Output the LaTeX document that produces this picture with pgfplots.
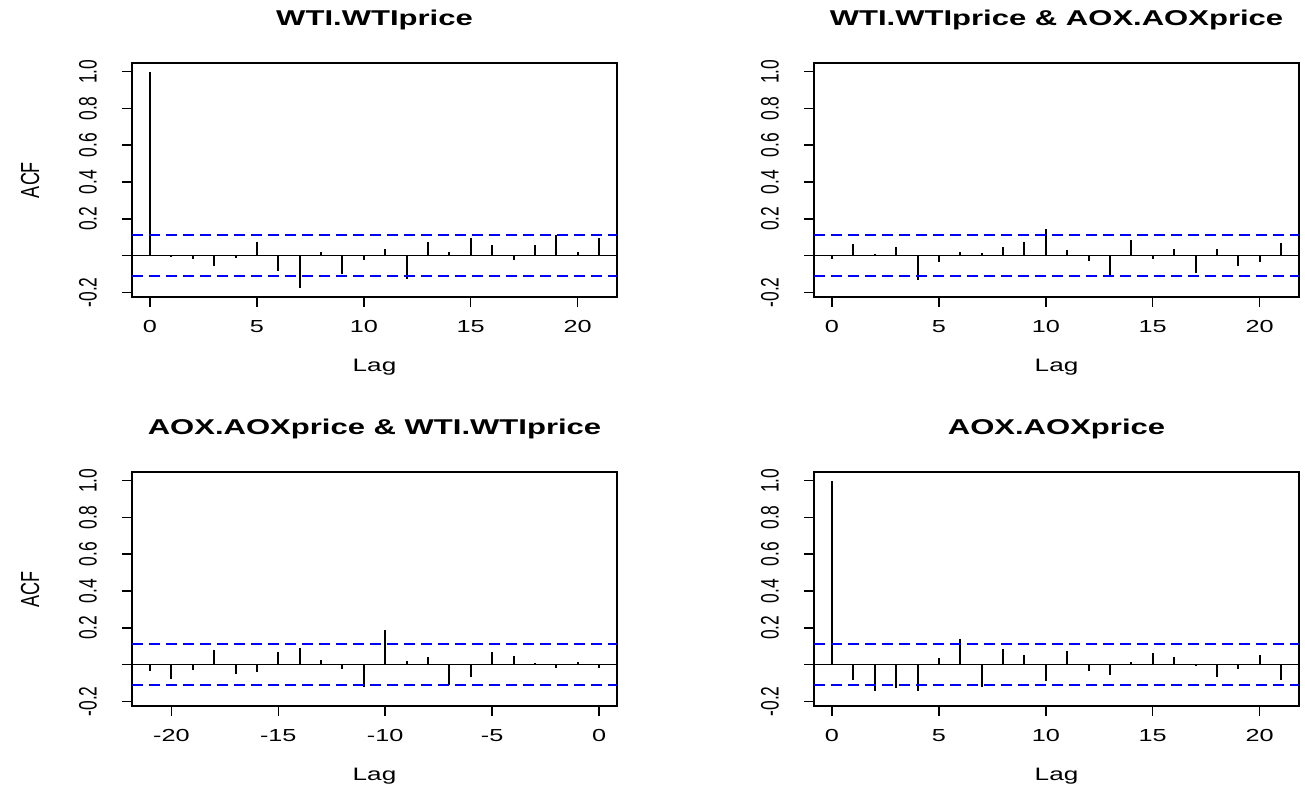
\documentclass[border=0pt]{standalone}
\usepackage{pgfplots}
\pgfplotsset{compat=1.18}
\usepackage{fontspec}
\setmainfont{Liberation Sans}
\newfontfamily\wfont{Liberation Sans}[FakeStretch=1.45]
\newfontfamily\pfont{Liberation Sans}
\newcommand\tickfont{\wfont\fontsize{8.7}{10}\selectfont}
\newcommand\yl[1]{\rotatebox{90}{\scalebox{1}[1.45]{\pfont\fontsize{8.7}{10}\selectfont #1}}}
\pgfplotsset{
 acf/.style={
  scale only axis, width=242.5pt, height=117pt,
  anchor=south west,
  ymin=-0.225, ymax=1.047,
  axis line style={line width=0.75pt},
  tick pos=left, tick align=outside, major tick length=5pt,
  every tick/.style={black, line width=0.75pt},
  ytick={-0.2,0,0.2,0.4,0.6,0.8,1.0},
  yticklabels={\yl{-0.2},,\yl{0.2},\yl{0.4},\yl{0.6},\yl{0.8},\yl{1.0}},
  yticklabel style={anchor=center, xshift=-17pt},
  xticklabel style={anchor=center, yshift=-10pt, font=\tickfont},
  xlabel={Lag},
  xlabel style={at={(axis description cs:0.5,-0.30)}, anchor=center, font=\wfont\fontsize{9}{10}\selectfont},
  title style={at={(axis description cs:0.5,1.132)}, anchor=center, font=\wfont\fontsize{10.7}{12}\bfseries\selectfont},
  ylabel style={at={(axis description cs:-0.21,0.5)}, anchor=center},
 },
 pos/.style={xmin=-0.84, xmax=21.84, xtick={0,5,10,15,20}, xticklabels={0,5,10,15,20}},
 neg/.style={xmin=-21.84, xmax=0.84, xtick={-20,-15,-10,-5,0}, xticklabels={-20,-15,-10,-5,0}},
 ci/.style={color=blue, line width=0.8pt, dash pattern=on 5.5pt off 3pt},
 bar/.style={ycomb, black, line width=1pt, mark=none},
 zl/.style={black, line width=0.75pt},
}
\begin{document}
\begin{tikzpicture}
\useasboundingbox (0,0) rectangle (652.5pt,394.5pt);
% Panel 1
\begin{axis}[acf, pos, at={(66pt,246pt)}, title={WTI.WTIprice},
  ylabel={\scalebox{1}[1.45]{\pfont\fontsize{9}{10}\selectfont ACF}}]
\addplot[zl] coordinates {(-0.84,0) (21.84,0)};
\addplot[bar] coordinates {
(0,1.0) (1,-0.009) (2,-0.016) (3,-0.054) (4,-0.015) (5,0.076) (6,-0.082) (7,-0.178)
(8,0.018) (9,-0.100) (10,-0.024) (11,0.036) (12,-0.127) (13,0.074) (14,0.018) (15,0.094)
(16,0.056) (17,-0.024) (18,0.056) (19,0.114) (20,0.022) (21,0.094)};
\addplot[ci] coordinates {(-0.84,0.112) (21.84,0.112)};
\addplot[ci] coordinates {(-0.84,-0.112) (21.84,-0.112)};
\end{axis}
% Panel 2
\begin{axis}[acf, pos, at={(407pt,246pt)}, title={WTI.WTIprice \& AOX.AOXprice}]
\addplot[zl] coordinates {(-0.84,0) (21.84,0)};
\addplot[bar] coordinates {
(0,-0.018) (1,0.063) (2,0.009) (3,0.049) (4,-0.132) (5,-0.036) (6,0.018) (7,0.016)
(8,0.049) (9,0.076) (10,0.147) (11,0.029) (12,-0.029) (13,-0.110) (14,0.087) (15,-0.016)
(16,0.036) (17,-0.092) (18,0.036) (19,-0.054) (20,-0.036) (21,0.069)};
\addplot[ci] coordinates {(-0.84,0.112) (21.84,0.112)};
\addplot[ci] coordinates {(-0.84,-0.112) (21.84,-0.112)};
\end{axis}
% Panel 3
\begin{axis}[acf, neg, at={(66pt,41.5pt)}, title={AOX.AOXprice \& WTI.WTIprice},
  ylabel={\scalebox{1}[1.45]{\pfont\fontsize{9}{10}\selectfont ACF}}]
\addplot[zl] coordinates {(-21.84,0) (0.84,0)};
\addplot[bar] coordinates {
(-21,-0.036) (-20,-0.076) (-19,-0.031) (-18,0.080) (-17,-0.049) (-16,-0.038) (-15,0.067)
(-14,0.093) (-13,0.027) (-12,-0.024) (-11,-0.122) (-10,0.190) (-9,0.022) (-8,0.042)
(-7,-0.109) (-6,-0.069) (-5,0.067) (-4,0.049) (-3,0.011) (-2,-0.018) (-1,0.016) (0,-0.018)};
\addplot[ci] coordinates {(-21.84,0.112) (0.84,0.112)};
\addplot[ci] coordinates {(-21.84,-0.112) (0.84,-0.112)};
\end{axis}
% Panel 4
\begin{axis}[acf, pos, at={(407pt,41.5pt)}, title={AOX.AOXprice}]
\addplot[zl] coordinates {(-0.84,0) (21.84,0)};
\addplot[bar] coordinates {
(0,1.0) (1,-0.083) (2,-0.145) (3,-0.129) (4,-0.145) (5,0.034) (6,0.140) (7,-0.122)
(8,0.087) (9,0.054) (10,-0.087) (11,0.074) (12,-0.036) (13,-0.056) (14,0.016) (15,0.062)
(16,0.042) (17,-0.009) (18,-0.069) (19,-0.024) (20,0.054) (21,-0.083)};
\addplot[ci] coordinates {(-0.84,0.112) (21.84,0.112)};
\addplot[ci] coordinates {(-0.84,-0.112) (21.84,-0.112)};
\end{axis}
\end{tikzpicture}
\end{document}
